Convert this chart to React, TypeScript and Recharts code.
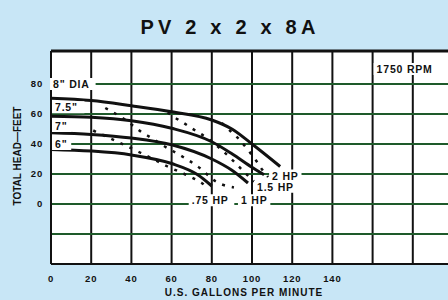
import React from 'react'
import {
  LineChart, Line, XAxis, YAxis, ReferenceLine, ReferenceDot, ReferenceArea,
} from 'recharts'

// impeller diameter curves: [gpm, head ft]
const dia8 = [[0, 70.5], [20, 69], [40, 65.5], [60, 61.5], [80, 56], [90, 50], [100, 40], [114, 25]]
const dia75 = [[0, 58.5], [20, 57.8], [40, 55.5], [60, 50.5], [80, 41.5], [90, 33.5], [100, 24.5], [106, 19.5]]
const dia7 = [[0, 47.5], [20, 46.4], [40, 44], [60, 39.5], [80, 30], [90, 22.5], [98, 14]]
const dia6 = [[0, 36.4], [20, 35.3], [40, 32.7], [60, 27], [73, 19.5], [80, 12]]

// horsepower lines
const hp075 = [[21, 49], [29, 44], [37, 39], [44, 34.5], [50, 30.5], [58, 25], [68, 19], [75, 14], [78, 11]]
const hp1 = [[27, 64], [36, 57], [45, 48], [50, 44], [57, 38], [64, 32.7], [74, 24], [82, 15], [91, 11]]
const hp15 = [[58, 61], [62, 57.3], [66, 54], [70, 50.5], [79, 42.7], [89, 31], [96, 21.5], [101, 15]]
const hp2 = [[85, 54], [89, 49], [93, 44], [98, 36], [102, 29], [105, 23], [108, 18]]

const xTicks = [0, 20, 40, 60, 80, 100, 120, 140, 160, 180]
const yTicks = [-40, -20, 0, 20, 40, 60, 80]

const diaCurves = [dia8, dia75, dia7, dia6]
const hpCurves = [hp075, hp1, hp15, hp2]

// curve labels: text, gpm, head
const tags: [string, number, number][] = [
  ['8" DIA', 1, 80],
  ['7.5"', 2, 64.5],
  ['7"', 2, 52],
  ['6"', 2, 40],
  ['2 HP', 110, 19],
  ['1.5 HP', 102.5, 11.5],
  ['.75 HP', 70, 2.5],
  ['1 HP', 94.5, 2.5],
  ['1750 RPM', 162, 90],
]

const toRows = (pts: number[][]) => pts.map(([gpm, head]) => ({ gpm, head }))

const font = "'Liberation Sans', Arial, sans-serif"

const TagShape = (props: any) => {
  const { cx, cy, text } = props
  const w = text.length * 6.6 + 6
  return (
    <g>
      <rect x={cx - 3} y={cy - 6} width={w} height={12} fill="#ffffff" />
      <text x={cx} y={cy} dominantBaseline="central" fontSize={10.5} fontWeight={700}
        letterSpacing={0.8} fill="#111" fontFamily={font}>
        {text}
      </text>
    </g>
  )
}

export default function App() {
  return (
    <div style={{
      position: 'fixed', left: 0, top: 0, width: 448, height: 300,
      background: '#c8e6f6', overflow: 'hidden', fontFamily: font,
    }}>
      <div style={{
        position: 'absolute', left: 0, width: 460, top: 16, textAlign: 'center',
        fontSize: 20, fontWeight: 700, letterSpacing: 4.2, color: '#111',
      }}>
        PV 2 x 2 x 8A
      </div>

      <LineChart width={460} height={300} margin={{ top: 51, right: 7, bottom: 0, left: 0 }}
        style={{ position: 'absolute', left: 0, top: 0 }}>
        <XAxis type="number" dataKey="gpm" domain={[0, 200]} ticks={xTicks} height={36}
          tickFormatter={(v: number) => (v <= 140 ? String(v) : '')}
          tickLine={false} axisLine={{ stroke: '#111', strokeWidth: 2 }}
          tick={{ fontSize: 9.5, fontWeight: 700, fill: '#111', letterSpacing: 0.8, fontFamily: font, dy: 3 }}
          allowDataOverflow />
        <YAxis type="number" dataKey="head" domain={[-40, 102]} ticks={yTicks} width={51}
          tickFormatter={(v: number) => (v >= 0 ? String(v) : '')}
          tickLine={false} axisLine={{ stroke: '#111', strokeWidth: 2 }}
          tick={{ fontSize: 9.5, fontWeight: 700, fill: '#111', letterSpacing: 0.8, fontFamily: font }}
          allowDataOverflow />
        <ReferenceArea x1={0} x2={200} y1={-40} y2={102} fill="#ffffff" fillOpacity={1} stroke="none" />
        {xTicks.map(v => (
          <ReferenceLine key={'vx' + v} x={v} stroke="#111" strokeWidth={2} />
        ))}
        {yTicks.map(v => (
          <ReferenceLine key={'hy' + v} y={v} stroke="#1e5a2a" strokeWidth={2} />
        ))}
        <ReferenceLine y={102} stroke="#111" strokeWidth={3} />
        {diaCurves.map((c, i) => (
          <Line key={'d' + i} data={toRows(c)} dataKey="head" type="monotone" stroke="#111"
            strokeWidth={3} dot={false} isAnimationActive={false} />
        ))}
        {hpCurves.map((c, i) => (
          <Line key={'h' + i} data={toRows(c)} dataKey="head" type="monotone" stroke="#111"
            strokeWidth={2.5} strokeDasharray="3 7" dot={false} isAnimationActive={false} />
        ))}
        {tags.map(([text, gpm, head]) => (
          <ReferenceDot key={text} x={gpm} y={head} r={0}
            shape={(p: any) => <TagShape {...p} text={text} />} />
        ))}
      </LineChart>

      <div style={{
        position: 'absolute', left: 104, width: 280, top: 287, textAlign: 'center',
        fontSize: 10, fontWeight: 700, letterSpacing: 1, color: '#111',
      }}>
        U.S. GALLONS PER MINUTE
      </div>
      <div style={{
        position: 'absolute', left: 17, top: 156, transform: 'translate(-50%, -50%) rotate(-90deg)',
        whiteSpace: 'nowrap', fontSize: 10, fontWeight: 700, letterSpacing: 0, color: '#111',
      }}>
        TOTAL HEAD—FEET
      </div>
    </div>
  )
}
